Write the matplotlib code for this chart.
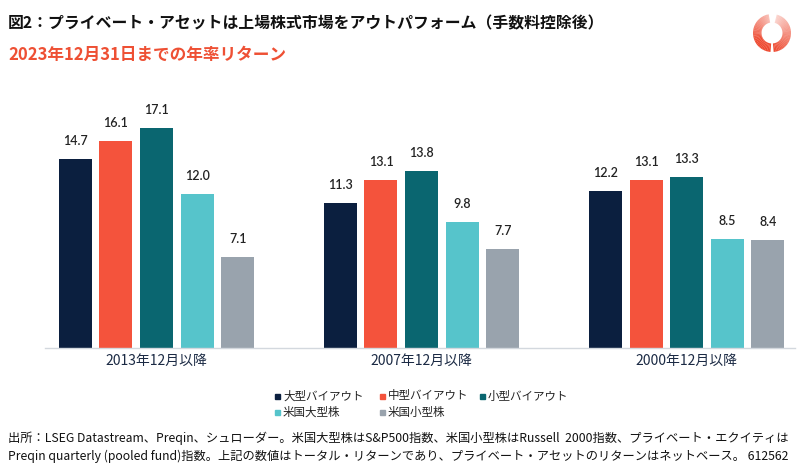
import matplotlib
matplotlib.use("Agg")
import matplotlib.pyplot as plt
from matplotlib.patches import Wedge, Rectangle
import numpy as np

plt.rcParams['font.family'] = ['Noto Sans CJK JP', 'DejaVu Sans']

# ---- data ----
periods = ["2013年12月以降", "2007年12月以降", "2000年12月以降"]
series_names = ["大型バイアウト", "中型バイアウト", "小型バイアウト", "米国大型株", "米国小型株"]
large_buyout = [14.7, 11.3, 12.2]
mid_buyout = [16.1, 13.1, 13.1]
small_buyout = [17.1, 13.8, 13.3]
us_large = [12.0, 9.8, 8.5]
us_small = [7.1, 7.7, 8.4]
series_values = [large_buyout, mid_buyout, small_buyout, us_large, us_small]
colors = ["#0b1f3f", "#f4533c", "#0a6670", "#56c4cb", "#99a3ad"]

title = "図2：プライベート・アセットは上場株式市場をアウトパフォーム（手数料控除後）"
subtitle = "2023年12月31日までの年率リターン"
footnote1 = "出所：LSEG Datastream、Preqin、シュローダー。米国大型株はS&P500指数、米国小型株はRussell  2000指数、プライベート・エクイティは"
footnote2 = "Preqin quarterly (pooled fund)指数。上記の数値はトータル・リターンであり、プライベート・アセットのリターンはネットベース。 612562"

W, H = 799, 469
fig = plt.figure(figsize=(W / 100, H / 100), dpi=100)
fig.patch.set_facecolor("white")

def fx(px):
    return px / W

def fy(py):
    return 1 - py / H

# axes: x 45..795 px, y 100..348 px
ax = fig.add_axes([fx(45), fy(348), fx(750), 248 / H])
ax.set_xlim(-0.421, 2.409)
ax.set_ylim(0, 248 / 12.86)

x = np.arange(len(periods))
step = 0.1532
width = 0.1245
for i, (vals, c) in enumerate(zip(series_values, colors)):
    pos = x + (i - 2) * step
    ax.bar(pos, vals, width=width, color=c, zorder=2)
    for p, v in zip(pos, vals):
        ax.annotate(f"{v:.1f}", (p, v), xytext=(0, 8.5), textcoords="offset points",
                    ha="center", va="bottom", fontsize=9, fontweight="semibold",
                    color="#222222", family=["Lato", "DejaVu Sans"])

ax.set_xticks(x)
ax.set_xticklabels(periods, fontsize=10, color="#1b2a44")
ax.tick_params(axis="x", length=0, pad=4)
ax.set_yticks([])
for s in ["left", "right", "top"]:
    ax.spines[s].set_visible(False)
ax.spines["bottom"].set_color("#d3d8de")
ax.spines["bottom"].set_linewidth(1.0)

# titles
fig.text(fx(8), fy(23), title, fontsize=11.4, fontweight="bold", color="#111111",
         ha="left", va="center")
fig.text(fx(8), fy(55), subtitle, fontsize=12, fontweight="bold", color="#ee5034",
         ha="left", va="center")

# legend (manual layout)
leg_pos = [(278, 396), (383, 396), (483, 396), (278, 412), (383, 412)]
for (lx, ly), name, c in zip(leg_pos, series_names, colors):
    fig.patches.append(Rectangle((fx(lx - 3), fy(ly + 2.5)), 5 / W, 5 / H,
                                 transform=fig.transFigure, color=c))
    fig.text(fx(lx + 5), fy(ly), name, fontsize=8.3, color="#222222", ha="left", va="center")

# footnote
fig.text(fx(8), fy(438), footnote1, fontsize=8.8, color="#111111", ha="left", va="center")
fig.text(fx(8), fy(456), footnote2, fontsize=8.8, color="#111111", ha="left", va="center")

# logo
lax = fig.add_axes([fx(747), fy(58), fx(50), 50 / H])
lax.set_xlim(-25, 25)
lax.set_ylim(-25, 25)
lax.set_aspect("equal")
lax.axis("off")
n = 30
for k in range(n):
    t1 = 100 + k * (165 / n)
    a = 0.35 + 0.65 * min(1, (k / n) * 1.6)
    lax.add_patch(Wedge((0, 0), 19, t1, t1 + 165 / n + 0.5, width=8.5,
                        color="#ee4b32", alpha=a, lw=0))
for k in range(n):
    t1 = -85 + k * (160 / n)
    a = 1.0 - 0.8 * (k / n)
    lax.add_patch(Wedge((0, 0), 19, t1, t1 + 160 / n + 0.5, width=8.5,
                        color="#ee4b32", alpha=a, lw=0))

fig.savefig("out.png", dpi=100, facecolor="white")
